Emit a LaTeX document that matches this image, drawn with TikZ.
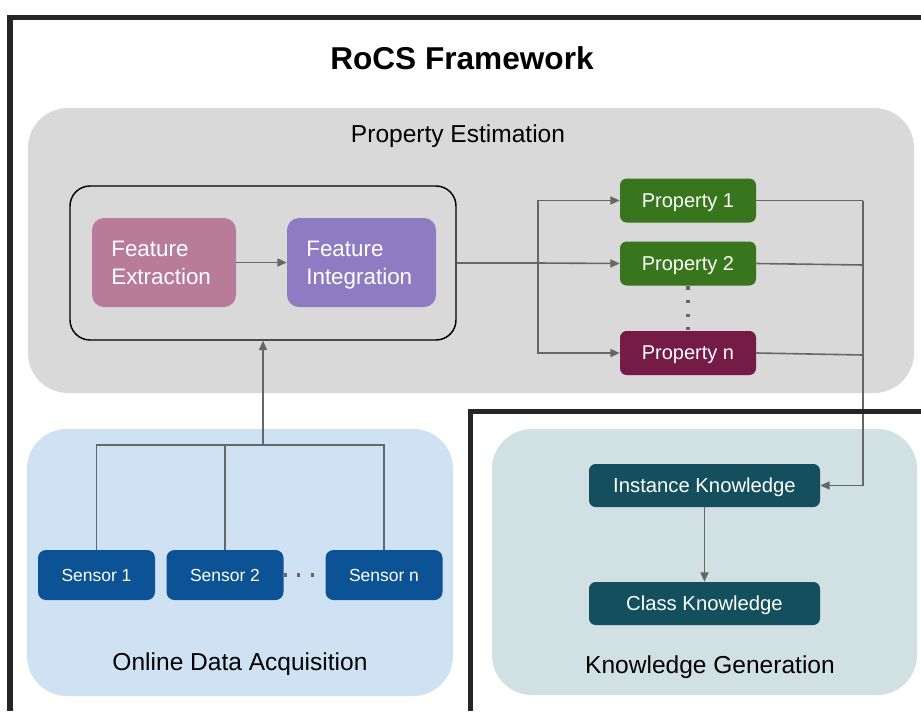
\documentclass[tikz,border=0pt]{standalone}
\usepackage{fontspec}
\setmainfont{Liberation Sans}
\usetikzlibrary{arrows.meta}

\definecolor{framedark}{HTML}{262626}
\definecolor{linkgray}{HTML}{666666}
\definecolor{estimbg}{HTML}{D9D9D9}
\definecolor{acqbg}{HTML}{CFE2F3}
\definecolor{knowbg}{HTML}{D0E0E3}
\definecolor{extractc}{HTML}{B87C99}
\definecolor{integc}{HTML}{8E7CC3}
\definecolor{propgreen}{HTML}{38761D}
\definecolor{propmag}{HTML}{741B47}
\definecolor{sensorblue}{HTML}{0B5394}
\definecolor{knowteal}{HTML}{134F5C}

\begin{document}
\begin{tikzpicture}[x=0.75pt,y=-0.75pt,
  panelfill/.style={fill=#1, draw=none, rounded corners=30pt},
  paneltext/.style={font=\fontsize{18.4pt}{22pt}\selectfont, text=black,
    inner sep=0pt, text depth=0pt},
  colbox/.style={draw=none, fill=#1, text=white, inner sep=0pt, align=center,
    text depth=0pt},
  featbox/.style={colbox=#1, rounded corners=9pt, minimum height=66.75pt,
    align=left, inner xsep=14.5pt, text depth=21pt,
    font=\fontsize{16.8pt}{21pt}\selectfont},
  propbox/.style={colbox=#1, rounded corners=5pt, minimum width=102pt,
    minimum height=33pt, font=\fontsize{15pt}{18pt}\selectfont},
  sensorbox/.style={colbox=sensorblue, rounded corners=6pt, minimum width=87.75pt,
    minimum height=37.5pt, font=\fontsize{13.1pt}{16pt}\selectfont},
  knowbox/.style={colbox=knowteal, rounded corners=5pt, minimum width=173.25pt,
    minimum height=32.25pt, font=\fontsize{15.2pt}{18pt}\selectfont},
  groupbox/.style={draw=black, line width=1.1pt, rounded corners=15pt,
    minimum width=289.5pt, minimum height=115.5pt, inner sep=0pt},
  link/.style={draw=linkgray, line width=1.2pt},
  arr/.style={link, -{Triangle[length=7pt,width=6pt]}},
  dotrow/.style={draw=linkgray, line width=2.6pt, dash pattern=on 2.3pt off 7.9pt},
  framerule/.style={draw=framedark, line width=4pt}
]
% canvas
\useasboundingbox (0,0) rectangle (921,711);
\fill[white] (0,0) rectangle (921,711);

% background panels
\fill[panelfill=estimbg] (28,108) rectangle (914,393);
\fill[panelfill=acqbg]   (27,429) rectangle (453,696);
\fill[panelfill=knowbg]  (492,429) rectangle (917,695);

% title and panel captions
\node[font=\bfseries\fontsize{23.7pt}{28pt}\selectfont, inner sep=0pt] (title) at (462,58) {RoCS Framework};
\node[paneltext] (estimlabel) at (458,134) {Property Estimation};
\node[paneltext] (acqlabel) at (240,662) {Online Data Acquisition};
\node[paneltext] (knowlabel) at (710,665) {Knowledge Generation};

% feature processing group
\node[groupbox] (grp) at (263,263) {};
\node[featbox=extractc, text width=79pt] (FE) at (164,262.5) {Feature\\Extraction};
\node[featbox=integc, text width=82.75pt] (FI) at (361.5,262.5) {Feature\\Integration};

% properties
\node[propbox=propgreen] (P1) at (688,200.5) {Property 1};
\node[propbox=propgreen] (P2) at (688,263.5) {Property 2};
\node[propbox=propmag]   (Pn) at (688,353) {Property n};

% sensors
\node[sensorbox] (S1) at (96.5,575) {Sensor 1};
\node[sensorbox] (S2) at (225,575) {Sensor 2};
\node[sensorbox] (Sn) at (384,575) {Sensor n};

% knowledge
\node[knowbox] (IK) at (704.5,485.5) {Instance Knowledge};
\node[knowbox] (CK) at (704.5,603.5) {Class Knowledge};

% junction points
\coordinate (split) at (538,263);
\coordinate (merge) at (863,200.5);
\coordinate (m2) at (863,265);
\coordinate (mn) at (863,355);
\coordinate (bus) at (263,445);

% connectors
\draw[arr] (FE.east) -- (FI.west);
\draw[link] (grp.east) -- (split);
\draw[arr] (split) |- (P1.west);
\draw[arr] (split) -- (P2.west);
\draw[arr] (split) |- (Pn.west);
\draw[link] (P1.east) -- (merge);
\draw[link] (P2.east) -- (m2);
\draw[link] (Pn.east) -- (mn);
\draw[arr] (merge) |- (IK.east);
\draw[arr] (IK.south) -- (CK.north);
\draw[link] (S1.north) |- (bus) -| (Sn.north);
\draw[link] (S2.north) -- (S2.north |- bus);
\draw[arr] (bus) -- (grp.south);

% ellipsis dots
\draw[dotrow] ([yshift=-0.5pt]P2.south) -- (Pn.north);
\draw[dotrow, shorten >=7pt] (S2.east) -- (Sn.west);

% frame rules
\draw[framerule] (10,711) -- (10,17.5) -- (921,17.5);
\draw[framerule] (470.5,711) -- (470.5,411.5) -- (921,411.5);
\end{tikzpicture}
\end{document}
